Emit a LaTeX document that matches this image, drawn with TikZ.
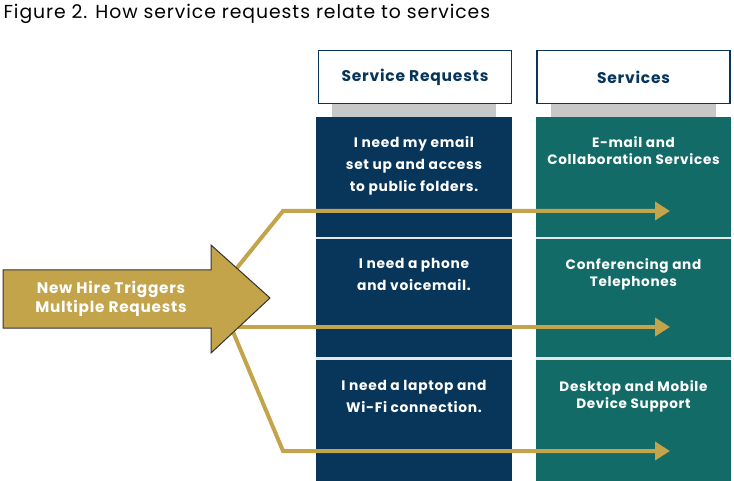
\documentclass[tikz,border=0pt]{standalone}
\usepackage{fontspec}
\setmainfont{Poppins}[LetterSpace=5]
\usepackage{tikz}
\usetikzlibrary{arrows.meta, positioning}
\definecolor{navy}{HTML}{07365A}
\definecolor{teal}{HTML}{126B66}
\definecolor{gold}{HTML}{C3A44B}
\definecolor{tabgray}{HTML}{C8C8C8}
\definecolor{sepgray}{HTML}{E4E6E8}
\tikzstyle{header} = [rectangle, minimum width=193pt, minimum height=53pt, draw=navy, line width=1.6pt, fill=white, text=navy, font=\fontsize{15.5}{18}\selectfont\bfseries]
\tikzstyle{cell} = [text=white, align=center, anchor=north, font=\fontsize{13.8}{21.8}\selectfont\bfseries]
\tikzstyle{svc} = [cell, font=\fontsize{13.6}{17.5}\selectfont\bfseries]
\tikzstyle{link} = [gold, line width=4pt, -{Triangle[length=15pt,width=18pt]}]
\tikzstyle{sep} = [sepgray, line width=2.5pt]

\begin{document}
\begin{tikzpicture}[x=1pt, y=-1pt]
	\useasboundingbox (0,0) rectangle (734,481);

	\node (title) [anchor=west, font=\fontsize{18.8}{20}\selectfont] at (0,14) {Figure 2. How service requests relate to services};

	% columns
	\fill [tabgray] (332,103) rectangle (496,117);
	\fill [tabgray] (551,103) rectangle (716,117);
	\fill [navy] (316,117) rectangle (512,481);
	\fill [teal] (536,117) rectangle (731,481);
	\draw [sep] (316,238) -- (512,238) (536,238) -- (731,238);
	\draw [sep] (316,358.5) -- (512,358.5) (536,358.5) -- (731,358.5);

	\node (reqhead) [header] at (415,77) {Service Requests};
	\node (svchead) [header] at (633.5,77) {Services};

	\node (req1) [cell] at (414,133) {I need my email\\set up and access\\to public folders.};
	\node (req2) [cell] at (414,255) {I need a phone\\and voicemail.};
	\node (req3) [cell] at (414,377) {I need a laptop and\\Wi-Fi connection.};
	\node (svc1) [svc] at (633.5,133) {E-mail and\\Collaboration Services};
	\node (svc2) [svc] at (633.5,255) {Conferencing and\\Telephones};
	\node (svc3) [svc] at (633.5,377) {Desktop and Mobile\\Device Support};

	% links
	\coordinate (top) at (215,295);
	\coordinate (mid) at (225,327);
	\coordinate (low) at (226,315);
	\coordinate (end1) at (670,211);
	\coordinate (end2) at (670,327);
	\coordinate (end3) at (670,451);
	\draw [link] (top) -- (283,211) -- (end1);
	\draw [link] (mid) -- (end2);
	\draw [link] (low) -- (283,451) -- (end3);

	% trigger
	\draw [fill=gold, draw=black!80, line width=1pt] (3,270) -- (211,270) -- (211,245) -- (270,298) -- (211,353) -- (211,328) -- (3,328) -- cycle;
	\node (hire) [text=white, align=center, font=\fontsize{15.3}{19}\selectfont\bfseries] at (111,299) {New Hire Triggers\\Multiple Requests};

\end{tikzpicture}
\end{document}
